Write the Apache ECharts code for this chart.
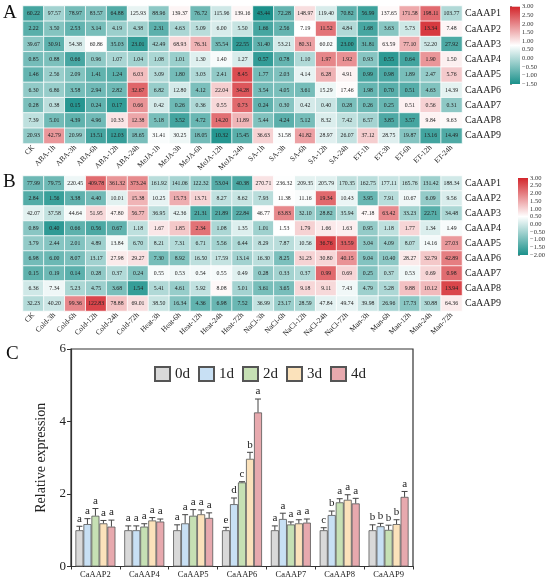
<!DOCTYPE html>
<html>
<head>
<meta charset="utf-8">
<script src="https://cdn.jsdelivr.net/npm/echarts@6/dist/echarts.min.js"></script>
<style>
  html, body { margin: 0; padding: 0; background: #fff; }
  #main { width: 550px; height: 584px; }
</style>
</head>
<body>
<div id="main"></div>
<script>
// 行名 (基因)
const genes = ['CaAAP1', 'CaAAP2', 'CaAAP3', 'CaAAP4', 'CaAAP5', 'CaAAP6', 'CaAAP7', 'CaAAP8', 'CaAAP9'];

// A: 激素处理
const hormoneCols = ['CK', 'ABA-1h', 'ABA-3h', 'ABA-6h', 'ABA-12h', 'ABA-24h', 'MeJA-1h', 'MeJA-3h', 'MeJA-6h', 'MeJA-12h', 'MeJA-24h',
  'SA-1h', 'SA-3h', 'SA-6h', 'SA-12h', 'SA-24h', 'ET-1h', 'ET-3h', 'ET-6h', 'ET-12h', 'ET-24h'];
const hormoneRows = [
  [60.22, 97.57, 78.97, 83.57, 64.88, 125.93, 88.96, 139.37, 76.72, 115.96, 139.16, 43.44, 72.28, 148.97, 119.40, 70.82, 56.99, 137.65, 171.58, 198.11, 103.77],
  [2.22, 3.50, 2.53, 3.14, 4.19, 4.38, 2.31, 4.63, 5.09, 6.00, 5.50, 1.66, 2.56, 7.19, 11.52, 4.84, 1.68, 3.63, 5.73, 13.34, 7.48],
  [39.67, 30.91, 54.38, 60.86, 35.03, 23.01, 42.49, 68.93, 76.31, 35.54, 22.55, 31.40, 53.21, 80.31, 60.02, 23.00, 31.81, 63.59, 77.10, 52.20, 27.92],
  [0.85, 0.88, 0.66, 0.96, 1.07, 1.04, 1.08, 1.01, 1.30, 1.40, 1.27, 0.57, 0.78, 1.10, 1.97, 1.92, 0.93, 0.55, 0.64, 1.90, 1.50],
  [1.46, 2.56, 2.09, 1.41, 1.24, 6.03, 3.09, 1.80, 3.03, 2.41, 8.45, 1.77, 2.03, 4.14, 6.28, 4.91, 0.99, 0.98, 1.89, 2.47, 5.76],
  [6.30, 6.86, 3.58, 2.94, 2.82, 32.67, 6.82, 12.80, 4.12, 22.04, 34.28, 3.54, 4.05, 3.61, 15.29, 17.46, 1.98, 0.70, 0.51, 4.63, 14.39],
  [0.28, 0.38, 0.15, 0.24, 0.17, 0.66, 0.42, 0.26, 0.36, 0.55, 0.73, 0.24, 0.30, 0.42, 0.40, 0.28, 0.26, 0.25, 0.51, 0.56, 0.31],
  [7.39, 5.01, 4.39, 4.96, 10.33, 12.38, 5.18, 3.52, 4.72, 14.20, 11.89, 5.44, 4.24, 5.12, 8.32, 7.42, 6.57, 3.85, 3.57, 9.84, 9.63],
  [20.93, 42.79, 20.99, 13.51, 12.03, 18.65, 31.41, 30.25, 18.05, 10.32, 15.45, 36.63, 31.58, 41.82, 28.97, 26.07, 37.12, 28.75, 19.87, 13.16, 14.49]
];

// B: 非生物胁迫
const stressCols = ['CK', 'Cold-3h', 'Cold-6h', 'Cold-12h', 'Cold-24h', 'Cold-72h', 'Heat-3h', 'Heat-6h', 'Heat-12h', 'Heat-24h', 'Heat-72h',
  'NaCl-3h', 'NaCl-6h', 'NaCl-12h', 'NaCl-24h', 'NaCl-72h', 'Man-3h', 'Man-6h', 'Man-12h', 'Man-24h', 'Man-72h'];
const stressRows = [
  [77.99, 79.75, 220.45, 409.78, 361.32, 373.24, 161.92, 141.06, 122.32, 53.04, 40.38, 270.71, 236.32, 209.35, 205.79, 170.35, 162.75, 177.11, 165.76, 131.42, 188.34],
  [2.84, 1.56, 3.38, 4.40, 10.01, 15.38, 10.25, 15.73, 13.71, 8.27, 8.62, 7.93, 11.38, 11.16, 19.34, 10.43, 3.95, 7.91, 10.67, 6.09, 9.56],
  [42.07, 37.58, 44.64, 51.95, 47.80, 56.77, 36.95, 42.36, 21.31, 21.89, 22.84, 46.77, 63.83, 32.10, 28.82, 35.94, 47.18, 63.42, 33.23, 22.71, 34.48],
  [0.89, 0.40, 0.66, 0.56, 0.67, 1.18, 1.67, 1.85, 2.34, 1.08, 1.35, 1.01, 1.53, 1.79, 1.66, 1.63, 0.95, 1.18, 1.77, 1.34, 1.49],
  [3.79, 2.44, 2.01, 4.89, 13.84, 6.70, 8.21, 7.31, 6.71, 5.56, 6.44, 8.29, 7.87, 10.56, 36.76, 33.59, 3.04, 4.09, 8.07, 14.16, 27.03],
  [6.98, 6.00, 8.07, 13.17, 27.98, 29.27, 7.30, 8.92, 16.50, 17.59, 13.14, 16.30, 8.25, 31.23, 30.80, 40.15, 9.04, 10.40, 28.27, 32.79, 42.89],
  [0.15, 0.19, 0.14, 0.28, 0.37, 0.24, 0.55, 0.53, 0.54, 0.55, 0.49, 0.28, 0.33, 0.37, 0.99, 0.69, 0.25, 0.37, 0.53, 0.69, 0.98],
  [6.36, 7.34, 5.23, 4.75, 3.68, 1.54, 5.41, 4.61, 5.92, 8.08, 5.01, 3.61, 3.65, 9.18, 9.11, 7.43, 4.79, 5.28, 9.88, 10.12, 13.94],
  [32.23, 40.20, 99.36, 122.83, 78.88, 69.01, 38.50, 16.34, 4.36, 6.98, 7.52, 36.99, 23.17, 28.59, 47.84, 49.74, 39.98, 26.96, 17.73, 30.88, 64.36]
];

// C: 柱状图
const barGenes = ['CaAAP2', 'CaAAP4', 'CaAAP5', 'CaAAP6', 'CaAAP7', 'CaAAP8', 'CaAAP9'];
const days = ['0d', '1d', '2d', '3d', '4d'];
const day0 = [1.00, 1.00, 1.00, 1.00, 1.00, 1.00, 1.00];
const day1 = [1.17, 1.00, 1.19, 1.72, 1.31, 1.42, 1.11];
const day2 = [1.40, 1.10, 1.40, 2.32, 1.16, 1.77, 1.01];
const day3 = [1.19, 1.27, 1.44, 2.97, 1.19, 1.84, 1.17];
const day4 = [1.10, 1.24, 1.34, 4.25, 1.21, 1.74, 1.92];
const err0 = [0.11, 0.12, 0.15, 0.08, 0.12, 0.07, 0.15];
const err1 = [0.15, 0.12, 0.24, 0.17, 0.16, 0.11, 0.08];
const err2 = [0.20, 0.08, 0.17, 0.02, 0.07, 0.10, 0.13];
const err3 = [0.08, 0.08, 0.12, 0.18, 0.10, 0.14, 0.12];
const err4 = [0.18, 0.07, 0.14, 0.37, 0.10, 0.14, 0.15];
const sig0 = ['a', 'a', 'a', 'e', 'a', 'c', 'b'];
const sig1 = ['a', 'a', 'a', 'd', 'a', 'b', 'b'];
const sig2 = ['a', 'a', 'a', 'c', 'a', 'a', 'b'];
const sig3 = ['a', 'a', 'a', 'b', 'a', 'a', 'b'];
const sig4 = ['a', 'a', 'a', 'a', 'a', 'a', 'a'];

const font = "'Times New Roman', 'Liberation Serif', serif";
const heatColors = ['#1b918b', '#ffffff', '#d3262c'];
const dayColors = ['#d9d9d9', '#c8e0f4', '#c6e0b4', '#fbe2bb', '#e7a9ae'];

// 按行做 z-score (颜色用), 标签显示原值
function toHeat(rows) {
  const out = [];
  rows.forEach((row, r) => {
    const n = row.length;
    const mean = row.reduce((s, v) => s + v, 0) / n;
    const sd = Math.sqrt(row.reduce((s, v) => s + (v - mean) * (v - mean), 0) / (n - 1));
    row.forEach((v, c) => out.push([c, r, (v - mean) / sd, v]));
  });
  return out;
}

const fmt = v => (v < 0 ? '\u2212' : '') + Math.abs(v).toFixed(2);

function heatAxes(cols, gi) {
  return {
    x: {
      type: 'category', gridIndex: gi, data: cols,
      axisLine: { show: false }, axisTick: { show: false },
      axisLabel: { rotate: 45, fontFamily: font, fontSize: 7.5, color: '#222', margin: 3, interval: 0 }
    },
    y: {
      type: 'category', gridIndex: gi, data: genes, inverse: true, position: 'right',
      axisLine: { show: false }, axisTick: { show: false },
      axisLabel: { fontFamily: font, fontSize: 10, color: '#222', margin: 3 }
    }
  };
}

function barAxes(gi, lo, hi) {
  return {
    x: { type: 'value', gridIndex: gi, min: 0, max: 1, show: false },
    y: {
      type: 'value', gridIndex: gi, min: lo, max: hi, interval: 0.5, position: 'right',
      axisLine: { show: false }, splitLine: { show: false },
      axisTick: { show: true, length: 2, lineStyle: { color: '#444', width: 0.6 } },
      axisLabel: { fontFamily: font, fontSize: 6.5, color: '#333', margin: 2, formatter: fmt }
    }
  };
}

function colorBar(gi, lo, hi) {
  return {
    type: 'custom', xAxisIndex: gi, yAxisIndex: gi, silent: true,
    data: [[0, lo, hi]],
    renderItem: (params, api) => {
      const p0 = api.coord([0, api.value(1)]);
      const p1 = api.coord([1, api.value(2)]);
      return {
        type: 'rect',
        shape: { x: p0[0], y: p1[1], width: p1[0] - p0[0], height: p0[1] - p1[1] },
        style: {
          fill: new echarts.graphic.LinearGradient(0, 1, 0, 0, [
            { offset: 0, color: heatColors[0] },
            { offset: 0.5, color: heatColors[1] },
            { offset: 1, color: heatColors[2] }
          ])
        }
      };
    }
  };
}

function heatSeries(rows, gi) {
  return {
    type: 'heatmap', xAxisIndex: gi, yAxisIndex: gi,
    data: toHeat(rows),
    itemStyle: { borderColor: '#fff', borderWidth: 0.8 },
    label: {
      show: true, fontFamily: font, fontSize: 5.8, color: '#222',
      formatter: p => p.data[3].toFixed(2)
    },
    emphasis: { disabled: true }
  };
}

const hA = heatAxes(hormoneCols, 0);
const hB = heatAxes(stressCols, 1);
const cA = barAxes(2, -1.5, 3);
const cB = barAxes(3, -2, 3);

const dayVals = [day0, day1, day2, day3, day4];
const dayErrs = [err0, err1, err2, err3, err4];
const daySigs = [sig0, sig1, sig2, sig3, sig4];
const barW = 8;

const barSeries = days.map((d, i) => ({
  name: d, type: 'bar', xAxisIndex: 4, yAxisIndex: 4,
  data: dayVals[i], barWidth: barW, barGap: '0%',
  itemStyle: { color: dayColors[i], borderColor: '#555', borderWidth: 0.8 }
}));

// 误差线 + 显著性字母
const errSeries = days.map((d, i) => ({
  type: 'custom', xAxisIndex: 4, yAxisIndex: 4, silent: true, z: 5,
  data: barGenes.map((g, k) => [k, dayVals[i][k], dayErrs[i][k]]),
  renderItem: (params, api) => {
    const k = api.value(0);
    const base = api.coord([k, api.value(1)]);
    const top = api.coord([k, api.value(1) + api.value(2)]);
    const x = base[0] + (i - 2) * barW;
    return {
      type: 'group',
      children: [
        { type: 'line', shape: { x1: x, y1: base[1], x2: x, y2: top[1] }, style: { stroke: '#444', lineWidth: 1 } },
        { type: 'line', shape: { x1: x - 3, y1: top[1], x2: x + 3, y2: top[1] }, style: { stroke: '#444', lineWidth: 1 } },
        { type: 'text', x: x, y: top[1] - 2, style: { text: daySigs[i][k], fontFamily: font, fontSize: 11, fill: '#222', align: 'center', verticalAlign: 'bottom' } }
      ]
    };
  }
}));

const chart = echarts.init(document.getElementById('main'));
chart.setOption({
  backgroundColor: '#fff',
  animation: false,
  graphic: [
    { type: 'text', left: 3, top: 4, style: { text: 'A', fontFamily: font, fontSize: 19, fill: '#111' } },
    { type: 'text', left: 3, top: 173, style: { text: 'B', fontFamily: font, fontSize: 19, fill: '#111' } },
    { type: 'text', left: 6, top: 345, style: { text: 'C', fontFamily: font, fontSize: 19, fill: '#111' } }
  ],
  grid: [
    { left: 23, top: 6, width: 439, height: 137.5 },
    { left: 23, top: 176, width: 439, height: 135 },
    { left: 510, top: 6.7, width: 10, height: 77.3 },
    { left: 518, top: 178, width: 10, height: 77 },
    { left: 71, top: 349, width: 342, height: 217.5, show: true, borderColor: '#333', borderWidth: 1.2 }
  ],
  xAxis: [hA.x, hB.x, cA.x, cB.x, {
    type: 'category', gridIndex: 4, data: barGenes,
    axisLine: { lineStyle: { color: '#333', width: 1.2 } },
    axisTick: { show: true, length: 3, lineStyle: { color: '#333' } },
    axisLabel: { fontFamily: font, fontSize: 8.5, color: '#222', margin: 4 }
  }],
  yAxis: [hA.y, hB.y, cA.y, cB.y, {
    type: 'value', gridIndex: 4, min: 0, max: 6, interval: 2,
    name: 'Relative expression', nameLocation: 'middle', nameGap: 13,
    nameTextStyle: { fontFamily: font, fontSize: 14, color: '#222' },
    axisLine: { show: true, lineStyle: { color: '#333', width: 1.2 } },
    axisTick: { show: true, length: 4, lineStyle: { color: '#333' } },
    splitLine: { show: false },
    axisLabel: { fontFamily: font, fontSize: 13, color: '#222', margin: 5 }
  }],
  visualMap: [
    { show: false, seriesIndex: 0, dimension: 2, min: -1.5, max: 3, inRange: { color: heatColors } },
    { show: false, seriesIndex: 1, dimension: 2, min: -2, max: 3, inRange: { color: heatColors } }
  ],
  legend: {
    data: days, left: 149, top: 361, itemWidth: 15, itemHeight: 14, itemGap: 8, icon: 'rect',
    textStyle: { fontFamily: font, fontSize: 15, color: '#222' }
  },
  series: [
    heatSeries(hormoneRows, 0),
    heatSeries(stressRows, 1),
    colorBar(2, -1.5, 3),
    colorBar(3, -2, 3)
  ].concat(barSeries, errSeries)
});
</script>
</body>
</html>
